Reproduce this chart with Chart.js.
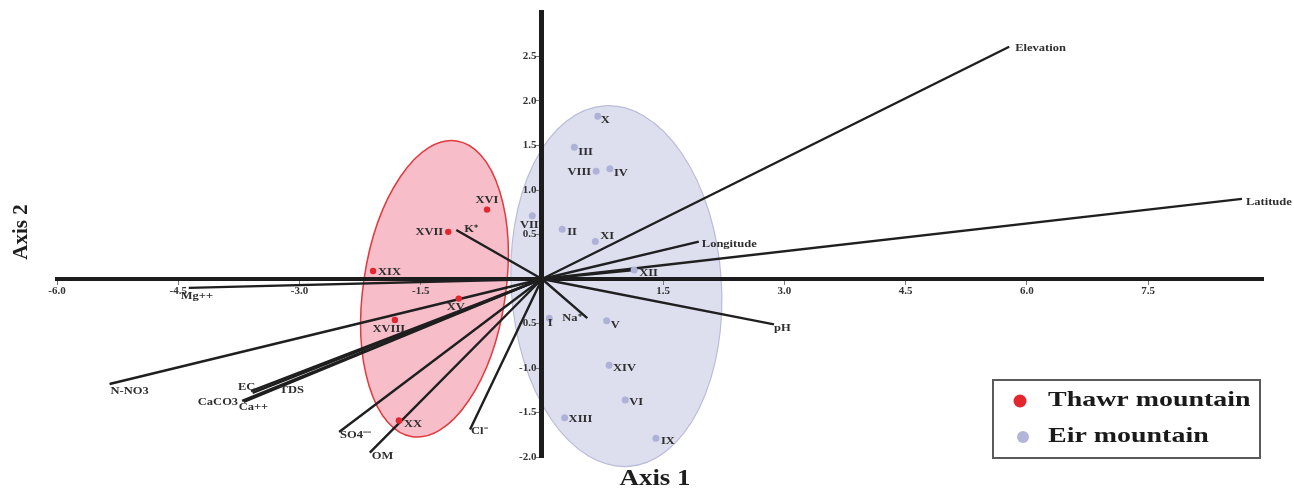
<!doctype html>
<html>

<head>
    <title>PCA biplot - Thawr and Eir mountains</title>
    <script src="https://cdn.jsdelivr.net/npm/chart.js"></script>
    <style>
    body {
        margin: 0;
        background: #fff;
    }
    #holder {
        width: 1294px;
        height: 488px;
    }
    </style>
</head>

<body>
    <div id="holder">
        <canvas id="biplot" width="1294" height="488"></canvas>
    </div>
    <script>
    // axis ticks
    var xTickValues = [-6.0, -4.5, -3.0, -1.5, 1.5, 3.0, 4.5, 6.0, 7.5];
    var yTickValues = [-2.0, -1.5, -1.0, -0.5, 0.5, 1.0, 1.5, 2.0, 2.5];

    // sites (Axis 1, Axis 2 scores)
    var thawrSites = ["XVI", "XVII", "XIX", "XV", "XVIII", "XX"];
    var thawrX = [-0.68, -1.16, -2.09, -1.03, -1.82, -1.77];
    var thawrY = [0.78, 0.53, 0.09, -0.22, -0.46, -1.59];

    var eirSites = ["X", "III", "VIII", "IV", "VII", "II", "XI", "XII", "I", "V", "XIV", "VI", "XIII", "IX"];
    var eirX = [0.69, 0.40, 0.67, 0.84, -0.12, 0.25, 0.66, 1.14, 0.09, 0.80, 0.83, 1.03, 0.28, 1.41];
    var eirY = [1.83, 1.48, 1.21, 1.24, 0.71, 0.56, 0.42, 0.10, -0.44, -0.47, -0.97, -1.36, -1.56, -1.79];

    // environmental variables (vector tips)
    var varNames = ["Elevation", "Latitude", "Longitude", "", "pH", "Na\u207A", "K\u207A", "Mg++", "N-NO3",
                    "EC", "TDS", "CaCO3", "Ca++", "SO4\u207B\u207B", "OM", "Cl\u207B"];
    var varX = [5.78, 8.66, 1.94, 1.14, 2.87, 0.56, -1.06, -4.37, -5.35, -3.60, -3.58, -3.71, -3.69, -2.51, -2.13, -0.89];
    var varY = [2.61, 0.90, 0.42, 0.10, -0.51, -0.44, 0.55, -0.10, -1.18, -1.26, -1.28, -1.37, -1.38, -1.72, -1.95, -1.69];

    // group ellipses: centre x, centre y, half width (x units), half height (y units)
    var ellipseCx = [-1.33, 0.92];
    var ellipseCy = [-0.11, -0.08];
    var ellipseRx = [0.88, 1.30];
    var ellipseRy = [1.68, 2.03];

    // ---- drawing stuff ----
    var ellipseStyle = [
        { tilt: 8.5, fill: "rgba(247,190,201,1)", stroke: "#e2393d", width: 1.5 },
        { tilt: -3.8, fill: "rgba(221,223,239,1)", stroke: "#b9bcd9", width: 1.2 }
    ];

    // label offsets in px: dx, dy, align
    var thawrLabelPos = [[0, -9, "center"], [-5, 1, "right"], [5, 1, "left"], [-3, 9, "center"],
                         [-6, 9, "center"], [5, 4, "left"]];
    var eirLabelPos = [[3, 4, "left"], [4, 5, "left"], [-5, 1, "right"], [4, 5, "left"], [-3, 10, "center"],
                       [5, 3, "left"], [5, -5, "left"], [5, 3, "left"], [1, 5, "center"], [4, 5, "left"],
                       [4, 3, "left"], [4, 2, "left"], [4, 2, "left"], [5, 3, "left"]];
    var varLabelPos = [[6, 2, "left"], [4, 4, "left"], [3, 3, "left"], [0, 0, "left"], [0, 4, "left"],
                       [-6, 0, "right"], [8, -1, "left"], [-8, 9, "left"], [1, 7, "left"], [-13, -4, "left"],
                       [27, -2, "left"], [-4, 1, "right"], [-5, 6, "left"], [1, 3, "left"], [2, 4, "left"],
                       [1, 2, "left"]];

    var serif = '"Liberation Serif", "Times New Roman", serif';

    function stretchText(ctx, txt, x, y, align, size, sx, color) {
        ctx.save();
        ctx.translate(x, y);
        ctx.scale(sx, 1);
        ctx.font = "bold " + size + "px " + serif;
        ctx.textAlign = align;
        ctx.textBaseline = "middle";
        ctx.fillStyle = color || "#2b2b2b";
        ctx.fillText(txt, 0, 0);
        ctx.restore();
    }

    function toPoints(xs, ys) {
        var pts = [];
        for (var i = 0; i < xs.length; i++) {
            pts.push({ x: xs[i], y: ys[i] });
        }
        return pts;
    }

    var ellipsePlugin = {
        id: "ellipses",
        beforeDraw: function(chart) {
            var ctx = chart.ctx, sx = chart.scales.x, sy = chart.scales.y;
            var pxX = sx.getPixelForValue(1) - sx.getPixelForValue(0);
            var pxY = sy.getPixelForValue(0) - sy.getPixelForValue(1);
            for (var i = 0; i < ellipseCx.length; i++) {
                var st = ellipseStyle[i];
                ctx.save();
                ctx.beginPath();
                ctx.ellipse(sx.getPixelForValue(ellipseCx[i]), sy.getPixelForValue(ellipseCy[i]),
                    ellipseRx[i] * pxX, ellipseRy[i] * pxY, st.tilt * Math.PI / 180, 0, 2 * Math.PI);
                ctx.fillStyle = st.fill;
                ctx.fill();
                ctx.lineWidth = st.width;
                ctx.strokeStyle = st.stroke;
                ctx.stroke();
                ctx.restore();
            }
        }
    };

    var labelPlugin = {
        id: "labels",
        afterDatasetsDraw: function(chart) {
            var ctx = chart.ctx, sx = chart.scales.x, sy = chart.scales.y;
            function put(names, xs, ys, pos) {
                for (var i = 0; i < names.length; i++) {
                    if (!names[i]) continue;
                    var px = sx.getPixelForValue(xs[i]), py = sy.getPixelForValue(ys[i]);
                    stretchText(ctx, names[i], px + pos[i][0], py + pos[i][1], pos[i][2], 10, 1.25, "#2e2e2e");
                }
            }
            put(thawrSites, thawrX, thawrY, thawrLabelPos);
            put(eirSites, eirX, eirY, eirLabelPos);
            put(varNames, varX, varY, varLabelPos);
        },
        afterDraw: function(chart) {
            var ctx = chart.ctx;
            // axis titles
            stretchText(ctx, "Axis 1", 655, 479, "center", 23, 1.17, "#1e1e1e");
            ctx.save();
            ctx.translate(22, 232);
            ctx.rotate(-Math.PI / 2);
            stretchText(ctx, "Axis 2", 0, 0, "center", 21, 1, "#1e1e1e");
            ctx.restore();
            // legend box
            ctx.save();
            ctx.lineWidth = 2;
            ctx.strokeStyle = "#5a5a5a";
            ctx.strokeRect(993, 380, 267, 78);
            ctx.fillStyle = "#e3262f";
            ctx.beginPath();
            ctx.arc(1020, 401, 6.5, 0, 2 * Math.PI);
            ctx.fill();
            ctx.fillStyle = "#b3b6d9";
            ctx.beginPath();
            ctx.arc(1023, 437, 6, 0, 2 * Math.PI);
            ctx.fill();
            ctx.restore();
            stretchText(ctx, "Thawr mountain", 1048, 400, "left", 22, 1.27, "#1a1a1a");
            stretchText(ctx, "Eir mountain", 1048, 436, "left", 22, 1.27, "#1a1a1a");
        }
    };

    var datasets = [{
        label: "Thawr mountain",
        data: toPoints(thawrX, thawrY),
        backgroundColor: "#e3262f",
        borderWidth: 0,
        pointRadius: 3.2,
        order: 0
    }, {
        label: "Eir mountain",
        data: toPoints(eirX, eirY),
        backgroundColor: "#aeb2d7",
        borderWidth: 0,
        pointRadius: 3.5,
        order: 0
    }];
    for (var i = 0; i < varNames.length; i++) {
        datasets.push({
            label: varNames[i] || "vector",
            data: [{ x: 0, y: 0 }, { x: varX[i], y: varY[i] }],
            showLine: true,
            borderColor: "#1f1f1f",
            borderWidth: 2.4,
            pointRadius: 0,
            order: 1
        });
    }

    var tickFont = { family: serif, weight: "bold", size: 11 };

    var config = {
        type: "scatter",
        data: { datasets: datasets },
        plugins: [ellipsePlugin, labelPlugin],
        options: {
            responsive: false,
            animation: false,
            layout: {
                padding: { left: 57, right: 31, top: 12, bottom: 31 }
            },
            plugins: {
                legend: { display: false },
                tooltip: { enabled: false }
            },
            scales: {
                x: {
                    type: "linear",
                    min: -6,
                    max: 8.92,
                    position: { y: 0 },
                    afterBuildTicks: function(s) {
                        s.ticks = xTickValues.map(function(v) { return { value: v }; });
                    },
                    afterFit: function(s) { s.height = 0; },
                    ticks: {
                        callback: function(v) { return Number(v).toFixed(1); },
                        font: tickFont,
                        color: "#333",
                        padding: 2,
                        maxRotation: 0,
                        autoSkip: false
                    },
                    grid: { display: true, drawOnChartArea: false, tickLength: 4, color: "#777" },
                    border: { display: true, width: 4, color: "#1c1c1c" }
                },
                y: {
                    type: "linear",
                    min: -2,
                    max: 3,
                    position: { x: 0 },
                    afterBuildTicks: function(s) {
                        s.ticks = yTickValues.map(function(v) { return { value: v }; });
                    },
                    afterFit: function(s) { s.width = 0; },
                    ticks: {
                        // centred axis puts labels flush on the line, so pad them with an en space
                        callback: function(v) { return Number(v).toFixed(1) + "\u2002"; },
                        font: tickFont,
                        color: "#333",
                        padding: 2,
                        autoSkip: false
                    },
                    grid: { display: true, drawOnChartArea: false, tickLength: 4, color: "#777" },
                    border: { display: true, width: 5, color: "#1c1c1c" }
                }
            }
        }
    };

    window.onload = function() {
        var ctx = document.getElementById("biplot").getContext("2d");
        window.myBiplot = new Chart(ctx, config);
    };
    </script>
</body>

</html>
